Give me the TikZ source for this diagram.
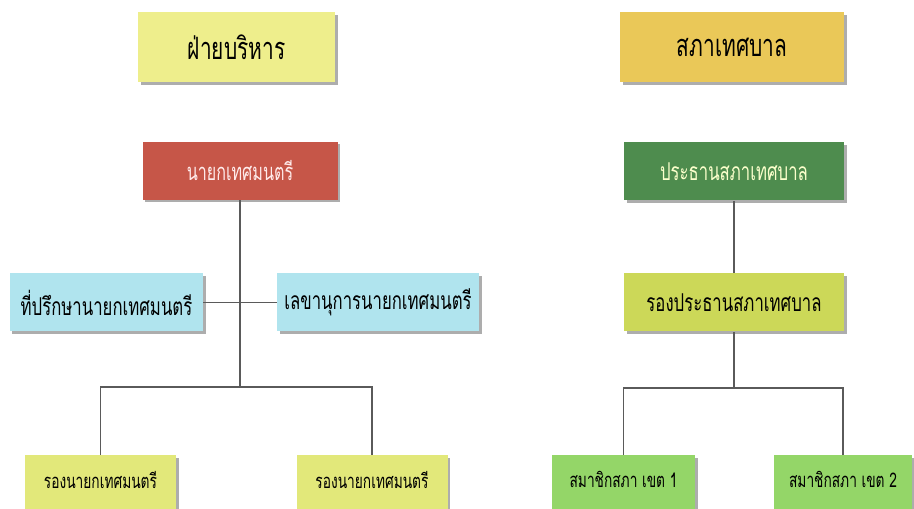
\documentclass[tikz,border=0pt]{standalone}
\usepackage{fontspec}
\newfontfamily\thaifont[Script=Thai,FakeStretch=0.68]{Loma}
\usetikzlibrary{shadows}
\definecolor{headyellow}{RGB}{238,238,140}
\definecolor{headgold}{RGB}{234,200,88}
\definecolor{mayorred}{RGB}{198,86,72}
\definecolor{chairgreen}{RGB}{78,140,78}
\definecolor{staffcyan}{RGB}{176,228,238}
\definecolor{vicelime}{RGB}{204,216,88}
\definecolor{deputyyellow}{RGB}{226,232,122}
\definecolor{membergreen}{RGB}{148,214,104}
\definecolor{linegray}{RGB}{90,90,90}

\begin{document}
\begin{tikzpicture}[x=0.02cm,y=-0.02cm,
  every node/.style={rectangle,inner sep=0pt,font=\thaifont\fontsize{14}{17}\selectfont,
    drop shadow={shadow xshift=0.05cm,shadow yshift=-0.05cm,fill=black!40,opacity=0.8}},
  headbox/.style={minimum height=70*0.02cm,font=\thaifont\fontsize{17.5}{21}\selectfont},
  posbox/.style={minimum height=58*0.02cm},
  lowbox/.style={minimum height=70*0.02cm,anchor=north,text depth=0.42cm,
    font=\thaifont\fontsize{11.5}{14}\selectfont},
  link/.style={draw=linegray,line width=0.6pt}
]
\clip (0,0) rectangle (914,509);
\fill[white] (0,0) rectangle (914,509);

% the headings
\node[headbox,fill=headyellow,minimum width=197*0.02cm] (exec) at (236.5,47.5) {ฝ่ายบริหาร};
\node[headbox,fill=headgold,minimum width=224*0.02cm] (council) at (732,47.5) {สภาเทศบาล};

% the executive side
\node[posbox,fill=mayorred,text=red!8,minimum width=195*0.02cm,font=\thaifont\fontsize{13.5}{16}\selectfont] (mayor) at (240,171) {นายกเทศมนตรี};
\node[posbox,fill=staffcyan,minimum width=193*0.02cm] (advisor) at (106.5,302.5) {ที่ปรึกษานายกเทศมนตรี};
\node[posbox,fill=staffcyan,minimum width=202*0.02cm] (secretary) at (378,302.5) {เลขานุการนายกเทศมนตรี};
\foreach \i/\x in {1/100.5,2/372}
  \node[lowbox,fill=deputyyellow,minimum width=151*0.02cm] (deputy\i) at (\x,455) {รองนายกเทศมนตรี};

% the council side
\node[posbox,fill=chairgreen,text=green!8!yellow!20,minimum width=220*0.02cm] (chair) at (734,171.5) {ประธานสภาเทศบาล};
\node[posbox,fill=vicelime,minimum width=220*0.02cm] (vicechair) at (734,302.5) {รองประธานสภาเทศบาล};
\foreach \i/\x/\w in {1/623.5/143,2/843/138}
  \node[lowbox,fill=membergreen,minimum width=\w*0.02cm] (member\i) at (\x,455) {สมาชิกสภา เขต \i};

% the lines
\coordinate (execfork) at (mayor.south |- 0,387);
\coordinate (councilfork) at (vicechair.south |- 0,388);
\draw[link] (mayor.south) -- (execfork);
\draw[link] (advisor.east) -- (secretary.west);
\draw[link] (deputy1.north) |- (execfork) -| (deputy2.north);
\draw[link] (chair.south) -- (vicechair.north);
\draw[link] (vicechair.south) -- (councilfork);
\draw[link] (member1.north) |- (councilfork) -| (member2.north);
\end{tikzpicture}
\end{document}
